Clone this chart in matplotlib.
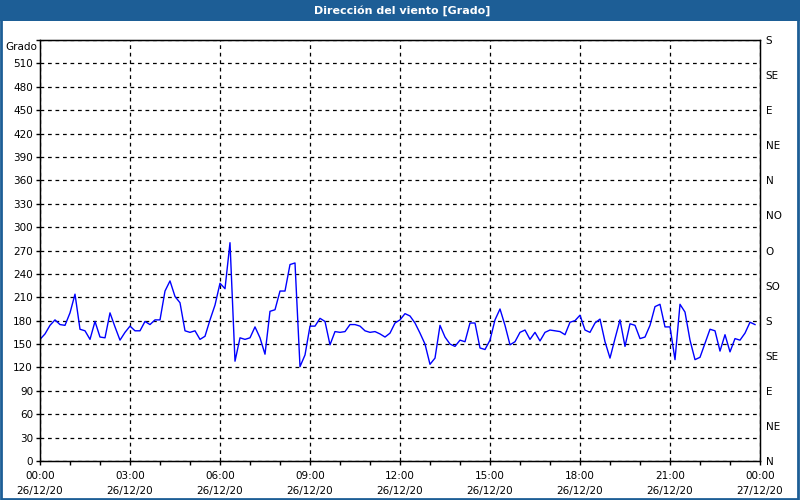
import numpy as np
import matplotlib.pyplot as plt
from matplotlib.patches import Rectangle

# wind direction, 10 minute samples from 00:00 to 23:50
hours = np.arange(144) / 6.0
grado = [156, 163, 174, 181, 175, 174, 190, 214, 169, 167, 156, 179,
         159, 158, 190, 172, 155, 165, 173, 167, 167, 179, 175, 181,
         181, 218, 231, 211, 203, 167, 165, 167, 156, 160, 181, 200,
         228, 221, 280, 128, 158, 156, 158, 172, 158, 137, 192, 194,
         218, 218, 252, 254, 121, 136, 173, 173, 183, 179, 149, 166,
         165, 166, 175, 175, 173, 167, 165, 166, 163, 159, 164, 177,
         181, 189, 186, 177, 164, 150, 124, 132, 174, 159, 150, 147,
         155, 153, 177, 177, 145, 143, 155, 181, 195, 174, 149, 153,
         165, 168, 156, 165, 154, 165, 168, 167, 166, 162, 178, 180,
         187, 168, 165, 177, 182, 153, 132, 157, 181, 147, 176, 174,
         157, 159, 174, 198, 201, 172, 172, 130, 201, 191, 155, 130,
         133, 151, 169, 167, 141, 162, 140, 157, 155, 164, 178, 175]

x_ticks = [0, 3, 6, 9, 12, 15, 18, 21, 24]
x_labels = ['00:00\n26/12/20', '03:00\n26/12/20', '06:00\n26/12/20',
            '09:00\n26/12/20', '12:00\n26/12/20', '15:00\n26/12/20',
            '18:00\n26/12/20', '21:00\n26/12/20', '00:00\n27/12/20']
y_ticks = list(range(0, 541, 30))
dir_ticks = list(range(0, 541, 45))
dir_labels = ['N', 'NE', 'E', 'SE', 'S', 'SO', 'O', 'NO', 'N',
              'NE', 'E', 'SE', 'S']

blue = '#1d5e96'
fs = 7.5

fig = plt.figure(figsize=(8, 5), dpi=100)
fig.patch.set_facecolor('white')

# title bar + frame
fig.patches.append(Rectangle((0, 1 - 21 / 500), 1, 21 / 500, transform=fig.transFigure,
                             facecolor=blue, edgecolor='none', zorder=0))
fig.patches.append(Rectangle((0.001, 0.002), 0.997, 0.996, transform=fig.transFigure,
                             facecolor='none', edgecolor=blue, linewidth=2, zorder=5))
fig.text(0.503, 1 - 10.5 / 500, 'Dirección del viento [Grado]', color='white',
         ha='center', va='center', fontsize=8, fontweight='bold')

ax = fig.add_axes([40 / 800, 39 / 500, 720 / 800, 421 / 500])
ax.plot(hours, grado, color='#0000ff', linewidth=1)

ax.set_xlim(0, 24)
ax.set_ylim(0, 540)
ax.set_xticks(x_ticks)
ax.set_xticklabels(x_labels, fontsize=fs, linespacing=1.6)
ax.set_xticks(range(0, 25), minor=True)
ax.set_yticks(y_ticks)
ax.set_yticklabels([str(v) for v in y_ticks[:-1]] + [''], fontsize=fs)
ax.tick_params(axis='both', which='both', direction='out', length=3, width=1,
               color='black', pad=2)
ax.tick_params(axis='x', pad=4)
ax.grid(True, which='major', color='black', linestyle=(0, (3, 3)), linewidth=0.9)
for s in ax.spines.values():
    s.set_linewidth(1)
ax.text(-0.004, 0.996, 'Grado', transform=ax.transAxes, ha='right', va='top',
        fontsize=fs)

ax2 = ax.twinx()
ax2.set_ylim(0, 540)
ax2.set_yticks(dir_ticks)
ax2.set_yticklabels(dir_labels, fontsize=fs)
ax2.tick_params(axis='y', length=0, pad=4)

fig.savefig('out.png', dpi=100)
